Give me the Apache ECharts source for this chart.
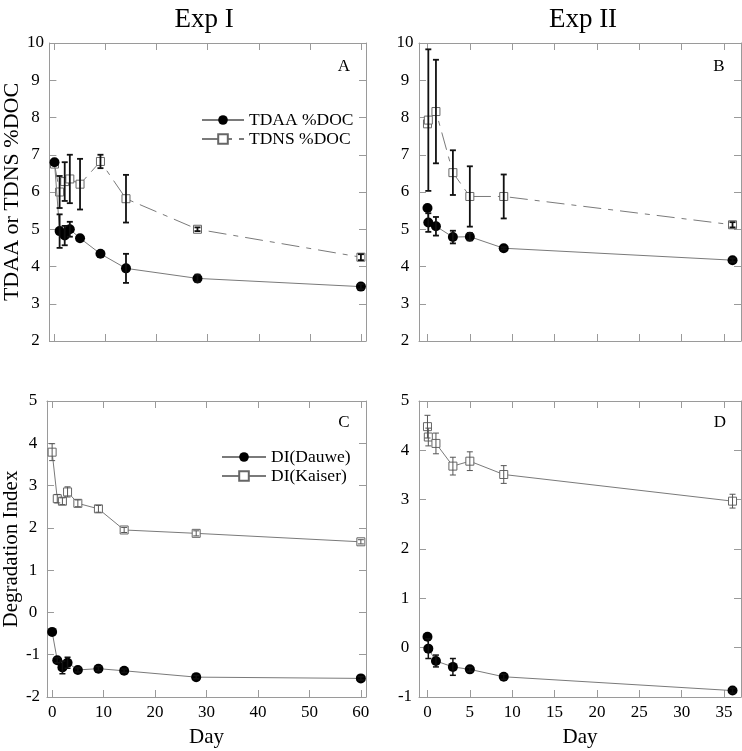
<!DOCTYPE html>
<html><head><meta charset="utf-8">
<script src="https://cdn.jsdelivr.net/npm/echarts@6/dist/echarts.min.js"></script>
<style>html,body{margin:0;padding:0;background:#fff}#c{width:742px;height:751px}</style>
</head><body><div id="c"></div>
<script>
// ---- data ----
const daysI = [0, 1, 2, 3, 5, 9, 14, 28, 60];
const tdaaI = [6.80, 4.95, 4.83, 5.00, 4.76, 4.34, 3.95, 3.68, 3.46];
const tdaaIErr = [0, 0.45, 0.26, 0.20, 0, 0, 0.39, 0.10, 0.07];
const tdnsI = [6.75, 6.00, 6.28, 6.35, 6.21, 6.82, 5.82, 5.00, 4.25];
const tdnsIErr = [0, 0.43, 0.52, 0.65, 0.68, 0.18, 0.64, 0.05, 0.08];
const dauweI = [-0.46, -1.13, -1.30, -1.19, -1.36, -1.33, -1.38, -1.53, -1.56];
const dauweIErr = [0, 0.06, 0.15, 0.13, 0.05, 0.05, 0.04, 0.04, 0.04];
const kaiserI = [3.79, 2.69, 2.63, 2.85, 2.58, 2.45, 1.95, 1.87, 1.67];
const kaiserIErr = [0.20, 0.10, 0.08, 0.12, 0.08, 0.08, 0.06, 0.06, 0.05];

const daysII = [0, 0.1, 1, 3, 5, 9, 36];
const tdaaII = [5.57, 5.18, 5.08, 4.79, 4.80, 4.49, 4.17];
const tdaaIIErr = [0, 0.25, 0.25, 0.17, 0.10, 0.03, 0.05];
const tdnsII = [7.83, 7.93, 8.16, 6.52, 5.88, 5.88, 5.12];
const tdnsIIErr = [0, 1.90, 1.39, 0.60, 0.81, 0.59, 0.07];
const dauweII = [0.22, -0.02, -0.27, -0.39, -0.44, -0.59, -0.87];
const dauweIIErr = [0, 0.20, 0.12, 0.17, 0.04, 0.05, 0.05];
const kaiserII = [4.48, 4.27, 4.14, 3.68, 3.78, 3.51, 2.97];
const kaiserIIErr = [0.23, 0.18, 0.21, 0.18, 0.19, 0.18, 0.14];

const xTicksI = [0, 10, 20, 30, 40, 50, 60];
const xTicksII = [0, 5, 10, 15, 20, 25, 30, 35];

// ---- styling ----
const FONT = 'Liberation Serif';
const FRAME = '#9a9a9a';
const LINE = '#7a7a7a';

const grids = [
  {left: 44, top: 43, width: 322, height: 298},
  {left: 419, top: 43, width: 322, height: 298},
  {left: 44, top: 401, width: 322, height: 296},
  {left: 419, top: 401, width: 322, height: 296}
];
const xRanges = [[-1, 61, xTicksI], [-1, 37, xTicksII], [-1, 61, xTicksI], [-1, 37, xTicksII]];
const yRanges = [[2, 10], [2, 10], [-2, 5], [-1, 5]];

const xAxis = [], yAxis = [];
grids.forEach((g, i) => {
  const [xmin, xmax, ticks] = xRanges[i];
  const bottomRow = i >= 2;
  ['bottom', 'top'].forEach(pos => {
    xAxis.push({
      type: 'value', gridIndex: i, min: xmin, max: xmax, position: pos,
      axisLine: {show: true, onZero: false, lineStyle: {color: FRAME, width: 1}},
      axisTick: {show: true, inside: true, length: 7, customValues: ticks, lineStyle: {color: FRAME}},
      axisLabel: {show: pos === 'bottom' && bottomRow, customValues: ticks, margin: 7,
        fontSize: 17, fontFamily: FONT, color: '#000'},
      splitLine: {show: false},
      name: (pos === 'bottom' && bottomRow) ? 'Day' : '',
      nameLocation: 'middle', nameGap: 30,
      nameTextStyle: {fontSize: 21, fontFamily: FONT, color: '#000'}
    });
  });
  const [ymin, ymax] = yRanges[i];
  ['left', 'right'].forEach(pos => {
    let nm = '', fs = 22;
    if (pos === 'left' && i === 0) nm = 'TDAA or TDNS %DOC';
    if (pos === 'left' && i === 2) { nm = 'Degradation Index'; fs = 21; }
    yAxis.push({
      type: 'value', gridIndex: i, min: ymin, max: ymax, interval: 1, position: pos,
      axisLine: {show: true, onZero: false, lineStyle: {color: FRAME, width: 1}},
      axisTick: {show: true, inside: true, length: 7, lineStyle: {color: FRAME}},
      axisLabel: {show: pos === 'left', margin: 14, align: 'center',
        fontSize: 17, fontFamily: FONT, color: '#000'},
      splitLine: {show: false},
      name: nm, nameLocation: 'middle', nameGap: 22,
      nameTextStyle: {fontSize: fs, fontFamily: FONT, color: '#000'}
    });
  });
});

function pairs(xs, ys) { return xs.map((d, k) => [d, ys[k]]); }
function triples(xs, ys, es) { return xs.map((d, k) => [d, ys[k], es[k]]); }

function errSeries(idx, xs, ys, es, color, width) {
  return {
    type: 'custom', xAxisIndex: idx * 2, yAxisIndex: idx * 2, z: 5,
    data: triples(xs, ys, es), encode: {x: 0, y: 1}, silent: true,
    renderItem: function (params, api) {
      const x = api.value(0), y = api.value(1), e = api.value(2);
      if (!e) return null;
      const hi = api.coord([x, y + e]), lo = api.coord([x, y - e]);
      const cap = 3;
      const st = {stroke: color, lineWidth: width};
      return {type: 'group', children: [
        {type: 'line', shape: {x1: hi[0], y1: hi[1], x2: lo[0], y2: lo[1]}, style: st},
        {type: 'line', shape: {x1: hi[0] - cap, y1: hi[1], x2: hi[0] + cap, y2: hi[1]}, style: st},
        {type: 'line', shape: {x1: lo[0] - cap, y1: lo[1], x2: lo[0] + cap, y2: lo[1]}, style: st}
      ]};
    }
  };
}

function circleSeries(name, idx, xs, ys) {
  return {
    name: name, type: 'line', xAxisIndex: idx * 2, yAxisIndex: idx * 2,
    data: pairs(xs, ys), symbol: 'circle', symbolSize: 10, z: 3,
    lineStyle: {color: LINE, width: 1},
    itemStyle: {color: '#000', borderColor: '#000', borderWidth: 0},
    animation: false
  };
}
function squareSeries(name, idx, xs, ys, dash) {
  return {
    name: name, type: 'line', xAxisIndex: idx * 2, yAxisIndex: idx * 2,
    data: pairs(xs, ys), symbol: 'rect', symbolSize: 8, z: 2,
    lineStyle: {color: LINE, width: 1, type: dash ? [18, 7, 5, 7] : 'solid'},
    itemStyle: {color: '#fff', borderColor: '#666', borderWidth: 1},
    animation: false
  };
}

const series = [
  squareSeries('TDNS %DOC', 0, daysI, tdnsI, true),
  circleSeries('TDAA %DOC', 0, daysI, tdaaI),
  errSeries(0, daysI, tdnsI, tdnsIErr, '#111', 1.8),
  errSeries(0, daysI, tdaaI, tdaaIErr, '#111', 1.8),

  squareSeries('TDNS %DOC', 1, daysII, tdnsII, true),
  circleSeries('TDAA %DOC', 1, daysII, tdaaII),
  errSeries(1, daysII, tdnsII, tdnsIIErr, '#111', 1.8),
  errSeries(1, daysII, tdaaII, tdaaIIErr, '#111', 1.8),

  squareSeries('DI(Kaiser)', 2, daysI, kaiserI, false),
  circleSeries('DI(Dauwe)', 2, daysI, dauweI),
  errSeries(2, daysI, kaiserI, kaiserIErr, '#555', 1),
  errSeries(2, daysI, dauweI, dauweIErr, '#111', 1.5),

  squareSeries('DI(Kaiser)', 3, daysII, kaiserII, false),
  circleSeries('DI(Dauwe)', 3, daysII, dauweII),
  errSeries(3, daysII, kaiserII, kaiserIIErr, '#555', 1),
  errSeries(3, daysII, dauweII, dauweIIErr, '#111', 1.5)
];

const legendText = {fontSize: 17.5, fontFamily: FONT, color: '#000'};
const legend = [
  {data: ['TDAA %DOC', 'TDNS %DOC'], left: 196, top: 106, orient: 'vertical',
   itemWidth: 42, itemHeight: 12, itemGap: 1, textStyle: legendText, selectedMode: false},
  {data: ['DI(Dauwe)', 'DI(Kaiser)'], left: 216, top: 443, orient: 'vertical',
   itemWidth: 44, itemHeight: 12, itemGap: 1, textStyle: legendText, selectedMode: false}
];

function txt(s, x, y, size) {
  return {type: 'text', x: x, y: y, style: {text: s, fontSize: size, fontFamily: FONT,
    fill: '#000', textAlign: 'center', textVerticalAlign: 'middle'}};
}
const graphic = [
  txt('Exp I', 204, 20, 27),
  txt('Exp II', 583, 20, 27),
  txt('A', 344, 67, 17),
  txt('B', 719, 67, 17),
  txt('C', 344, 423, 17),
  txt('D', 720, 423, 17)
];

const chart = echarts.init(document.getElementById('c'), null, {renderer: 'canvas'});
chart.setOption({
  animation: false,
  backgroundColor: '#fff',
  grid: grids, xAxis: xAxis, yAxis: yAxis, series: series,
  legend: legend, graphic: graphic
});
</script></body></html>
